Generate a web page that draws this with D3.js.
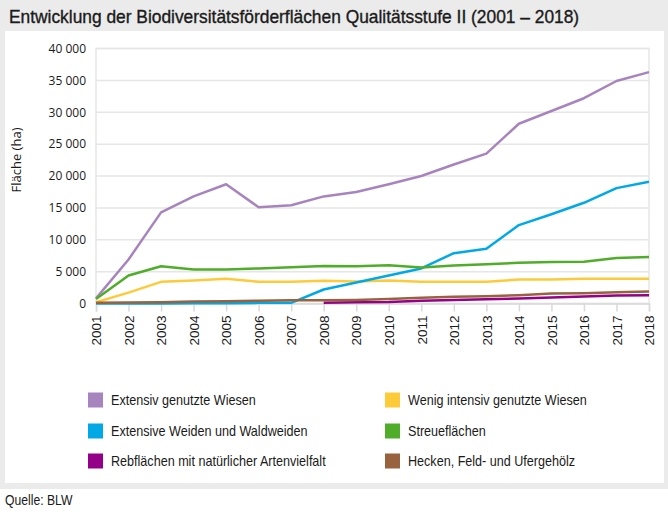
<!DOCTYPE html>
<html>
<head>
<meta charset="utf-8">
<script src="https://cdn.jsdelivr.net/npm/d3@7"></script>
<style>
  body { margin: 0; background: #fff; }
</style>
</head>
<body>
<div id="chart"></div>
<script>
// jahre
var years = [2001, 2002, 2003, 2004, 2005, 2006, 2007, 2008, 2009,
             2010, 2011, 2012, 2013, 2014, 2015, 2016, 2017, 2018];

// flaechen in ha
var extensivWiesen = [800, 6900, 14300, 16800, 18700, 15100, 15400, 16800, 17500,
                      18700, 20000, 21800, 23500, 28200, 30200, 32200, 34900, 36300];
var wenigIntensiv = [200, 1700, 3400, 3600, 3900, 3400, 3400, 3550, 3450,
                     3600, 3400, 3400, 3400, 3750, 3750, 3900, 3900, 3900];
var weiden = [0, 0, 0, 50, 50, 100, 100, 2200, 3300,
              4400, 5500, 7900, 8600, 12300, 14000, 15800, 18100, 19100];
var streue = [700, 4400, 5850, 5350, 5350, 5500, 5700, 5900, 5850,
              6000, 5650, 5950, 6150, 6400, 6500, 6550, 7150, 7300];
var reben = [null, null, null, null, null, null, null, 100, 200,
             250, 450, 550, 650, 800, 950, 1100, 1250, 1300];
var hecken = [100, 150, 200, 300, 350, 450, 500, 500, 550,
              700, 900, 1050, 1150, 1300, 1550, 1600, 1750, 1900];

var seriesNames = ["Extensiv genutzte Wiesen", "Wenig intensiv genutzte Wiesen",
                   "Extensive Weiden und Waldweiden", "Streueflächen",
                   "Rebflächen mit natürlicher Artenvielfalt", "Hecken, Feld- und Ufergehölz"];
var seriesValues = [extensivWiesen, wenigIntensiv, weiden, streue, reben, hecken];
var seriesColors = ["#a884bf", "#fdcb3a", "#00a9e6", "#4fad2a", "#950088", "#99623f"];

var yTicks = [0, 5000, 10000, 15000, 20000, 25000, 30000, 35000, 40000];

var width = 668,
    height = 514;
var margin = {top: 48.5, right: 19, bottom: 210.5, left: 96};
var widthp = width - margin.left - margin.right;
var heightp = height - margin.top - margin.bottom;

// keine schmale schrift installiert -> horizontal stauchen
var sans = "'Liberation Sans', Arial, sans-serif";
var humanist = "'Open Sans', 'Noto Sans', sans-serif";

var svg = d3.select("#chart")
            .append("svg")
            .attr("width", width)
            .attr("height", height);

// grauer hintergrund + weisses panel
svg.append("rect")
   .attr("x", 0).attr("y", 0)
   .attr("width", width).attr("height", 489)
   .attr("fill", "#ebebeb");
svg.append("rect")
   .attr("x", 5).attr("y", 31)
   .attr("width", 659).attr("height", 452)
   .attr("fill", "#fff");

// titel
svg.append("text")
   .attr("transform", "translate(9,23) scale(0.965,1)")
   .attr("font-family", sans)
   .attr("font-size", 18)
   .attr("fill", "#1a1a1a")
   .attr("stroke", "#1a1a1a")
   .attr("stroke-width", 0.35)
   .text("Entwicklung der Biodiversitätsförderflächen Qualitätsstufe II (2001 – 2018)");

// quelle
svg.append("text")
   .attr("transform", "translate(5,505) scale(0.87,1)")
   .attr("font-family", sans)
   .attr("font-size", 14)
   .attr("fill", "#1a1a1a")
   .text("Quelle: BLW");

var xScale = d3.scaleLinear()
               .domain([2001, 2018])
               .range([0, widthp]);
var yScale = d3.scaleLinear()
               .domain([0, 40000])
               .range([heightp, 0]);

var g = svg.append("g")
           .attr("transform", "translate(" + margin.left + "," + margin.top + ")");

// gitter
g.append("g")
 .selectAll("line")
 .data(yTicks)
 .join("line")
 .attr("x1", 0)
 .attr("x2", widthp)
 .attr("y1", d => yScale(d))
 .attr("y2", d => yScale(d))
 .attr("stroke", "#e6e6e6")
 .attr("stroke-width", 1.5);
g.append("rect")
 .attr("width", widthp)
 .attr("height", heightp)
 .attr("fill", "none")
 .attr("stroke", "#e6e6e6")
 .attr("stroke-width", 1.5);

// y achse
var fmt = d3.formatLocale({decimal: ",", thousands: " ", grouping: [3], currency: ["", ""]}).format(",d");
var yAxis = g.append("g")
             .attr("id", "yAxis")
             .call(d3.axisLeft(yScale).tickValues(yTicks).tickSize(0).tickPadding(10).tickFormat(fmt));
yAxis.select(".domain").remove();
yAxis.selectAll("text")
     .attr("font-family", humanist)
     .attr("font-size", 12)
     .attr("fill", "#1a1a1a");

// x achse
var xAxis = g.append("g")
             .attr("id", "xAxis")
             .attr("transform", "translate(0," + heightp + ")")
             .call(d3.axisBottom(xScale).tickValues(years).tickSize(8).tickPadding(4).tickFormat(d3.format("d")));
xAxis.select(".domain").attr("stroke", "#d9d9d9").attr("stroke-width", 1.5);
xAxis.selectAll(".tick line").attr("stroke", "#d9d9d9").attr("stroke-width", 1.5);
xAxis.selectAll("text")
     .attr("font-family", sans)
     .attr("font-size", 13.5)
     .attr("fill", "#1a1a1a")
     .attr("text-anchor", "end")
     .attr("dy", "0.35em")
     .attr("transform", "translate(0,12) rotate(-90)")
     .attr("x", 0)
     .attr("y", 0);

// y label
svg.append("text")
   .attr("transform", "translate(21,160) rotate(-90)")
   .attr("text-anchor", "middle")
   .attr("font-family", humanist)
   .attr("font-size", 13)
   .attr("fill", "#1a1a1a")
   .text("Fläche (ha)");

// linien
var line = d3.line()
             .defined(d => d.v != null)
             .x(d => xScale(d.year))
             .y(d => yScale(d.v));

seriesValues.forEach(function(vals, i) {
  var pts = years.map(function(y, j) { return {year: y, v: vals[j]}; });
  g.append("path")
   .datum(pts)
   .attr("d", line)
   .attr("fill", "none")
   .attr("stroke", seriesColors[i])
   .attr("stroke-width", 2.5)
   .attr("stroke-linejoin", "round");
});

// legende
var legX = [88, 385],
    legY = [400, 431, 461];
var leg = svg.append("g")
             .selectAll("g")
             .data(seriesNames)
             .join("g")
             .attr("transform", (d, i) => "translate(" + legX[i % 2] + "," + legY[Math.floor(i / 2)] + ")");
leg.append("rect")
   .attr("x", 0)
   .attr("y", -7.5)
   .attr("width", 15)
   .attr("height", 15)
   .attr("fill", (d, i) => seriesColors[i]);
leg.append("text")
   .attr("transform", "translate(23,0) scale(0.9,1)")
   .attr("dy", "0.35em")
   .attr("font-family", sans)
   .attr("font-size", 14)
   .attr("fill", "#1a1a1a")
   .text(d => d);
</script>
</body>
</html>
